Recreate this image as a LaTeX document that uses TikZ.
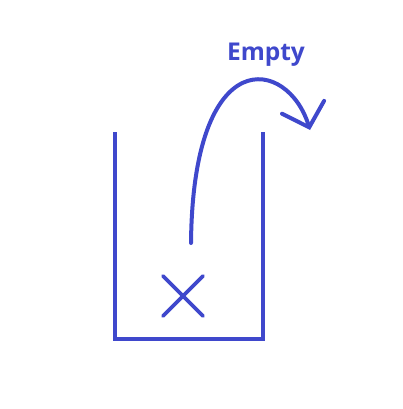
\documentclass[tikz,border=0pt]{standalone}
\usepackage{xcolor}
\usepackage{fontspec}
\setmainfont{Open Sans}
\usepackage{tikz}
\usetikzlibrary{arrows.meta}
\definecolor{boxblue}{RGB}{63,72,204}

\begin{document}
\begin{tikzpicture}[x=1pt, y=-1pt,
    wall/.style={draw=boxblue, line width=4.5pt},
    cross/.style={draw=boxblue, line width=3.6pt, line cap=round},
    hop/.style={draw=boxblue, line width=4pt, line cap=round,
                -{Straight Barb[length=21pt, width=44pt, line cap=round]}}]
    \useasboundingbox (0,0) rectangle (402,409);

    % container
    \draw[wall] (115,132) -- (115,339) -- (263,339) -- (263,132);

    % removed item
    \coordinate (item) at (183,296);
    \draw[cross] ([shift={(-20,-20)}]item) -- ([shift={(20,20)}]item);
    \draw[cross] ([shift={(20,-20)}]item) -- ([shift={(-20,20)}]item);

    % jump out
    \coordinate (start) at (191,243);
    \coordinate (end) at (310,130);
    \draw[hop] (start) .. controls (193,40) and (288,58) .. (end);

    \node[anchor=center] (label) at (266,55) {\fontsize{24.5}{28}\selectfont\bfseries\textcolor{boxblue}{Empty}};
\end{tikzpicture}
\end{document}
